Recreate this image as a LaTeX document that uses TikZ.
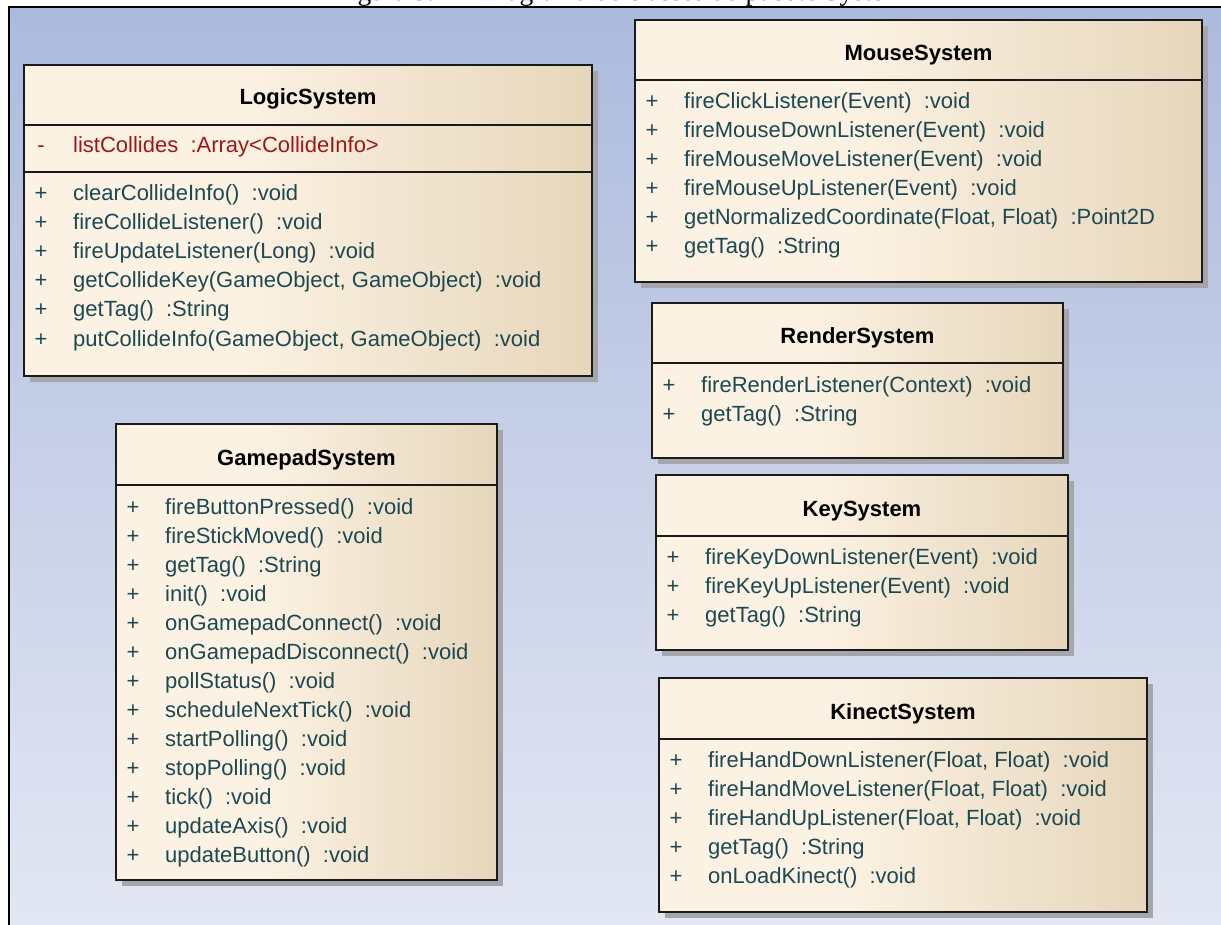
\documentclass[tikz,border=0pt]{standalone}
\usepackage{fontspec}
\setmainfont{Liberation Sans}
\newfontfamily\capfont{Liberation Serif}

% colours of the class diagram
\definecolor{bgtop}{RGB}{172,186,221}
\definecolor{bgbot}{RGB}{227,231,243}
\definecolor{boxleft}{RGB}{252,242,227}
\definecolor{boxright}{RGB}{230,214,187}
\definecolor{boxline}{RGB}{26,26,26}
\definecolor{shadowgray}{RGB}{165,166,172}
\definecolor{membercol}{RGB}{28,72,82}
\definecolor{attrcol}{RGB}{160,22,22}

% cream-to-tan fill of the class boxes
\pgfdeclarehorizontalshading{classfill}{100bp}{color(0bp)=(boxleft); color(25bp)=(boxleft); color(44bp)=(boxleft); color(75bp)=(boxright); color(100bp)=(boxright)}

\tikzset{
  classbox/.style={draw=boxline, line width=2.4pt, shade, shading=classfill,
    anchor=north west, inner sep=0pt, outer sep=0pt},
  sepline/.style={draw=boxline, line width=2pt},
  classtitle/.style={anchor=base, inner sep=0pt, text=black,
    font=\bfseries\fontsize{22}{26}\selectfont},
  visi/.style={anchor=base, inner sep=0pt, text=membercol,
    font=\fontsize{22}{26}\selectfont},
  member/.style={anchor=base west, inner sep=0pt, text=membercol,
    font=\fontsize{22}{26}\selectfont},
  attr/.style={member, text=attrcol},
  attrvisi/.style={visi, text=attrcol},
}

% gap between a signature and its type
\newcommand\tsp{\hspace{0.556em}}

% #1 name, #2 left, #3 top, #4 right, #5 bottom, #6 title, #7 title baseline, #8 separator
\newcommand\classbox[8]{%
  \fill[shadowgray] ({#2+6},{#3+6}) rectangle ({#4+6},{#5+6});
  \node[classbox, minimum width={#4pt-#2pt}, minimum height={#5pt-#3pt}] (#1) at (#2,#3) {};
  \node[classtitle] (#1-title) at ({(#2+#4)/2},#7) {#6};
  \draw[sepline] (#2,#8) -- (#4,#8);
}

% #1 box name, #2 index, #3 box left, #4 baseline, #5 text
\newcommand\op[5]{%
  \node[visi] (#1-v#2) at ({#3+17},#4) {+};
  \node[member] (#1-m#2) at ({#3+49},#4) {#5};
}

\begin{document}
\begin{tikzpicture}[x=1pt,y=-1pt]
\useasboundingbox (0,0) rectangle (1221,925);
\clip (0,0) rectangle (1221,925);
\fill[white] (0,0) rectangle (1221,925);

% caption above the frame (only its lowest part lies on the page)
\node[anchor=base, inner sep=0pt, font=\capfont\fontsize{27.5}{32}\selectfont] (caption) at (620,0.5)
  {Figura 5.4 -- Diagrama de classes do pacote System};

% diagram background and frame
\shade[top color=bgtop, bottom color=bgbot] (9,7) rectangle (1221,925);
\draw[line width=2.6pt, line cap=rect] (9,925) -- (9,7) -- (1221,7);

% LogicSystem
\classbox{logic}{24}{65}{592}{376}{LogicSystem}{105}{125}
\draw[sepline] (24,172) -- (592,172);
\node[attrvisi] (logic-va) at (41,153) {-};
\node[attr] (logic-a1) at (73,153) {listCollides\tsp:Array<CollideInfo>};
\op{logic}{1}{24}{201}{clearCollideInfo()\tsp:void}
\op{logic}{2}{24}{230}{fireCollideListener()\tsp:void}
\op{logic}{3}{24}{259}{fireUpdateListener(Long)\tsp:void}
\op{logic}{4}{24}{288}{getCollideKey(GameObject, GameObject)\tsp:void}
\op{logic}{5}{24}{317}{getTag()\tsp:String}
\op{logic}{6}{24}{346}{putCollideInfo(GameObject, GameObject)\tsp:void}

% MouseSystem
\classbox{mouse}{635}{20}{1202}{282}{MouseSystem}{61}{80}
\op{mouse}{1}{635}{109}{fireClickListener(Event)\tsp:void}
\op{mouse}{2}{635}{138}{fireMouseDownListener(Event)\tsp:void}
\op{mouse}{3}{635}{167}{fireMouseMoveListener(Event)\tsp:void}
\op{mouse}{4}{635}{196}{fireMouseUpListener(Event)\tsp:void}
\op{mouse}{5}{635}{225}{getNormalizedCoordinate(Float, Float)\tsp:Point2D}
\op{mouse}{6}{635}{254}{getTag()\tsp:String}

% RenderSystem
\classbox{render}{652}{303}{1063}{458}{RenderSystem}{344}{363}
\op{render}{1}{652}{392}{fireRenderListener(Context)\tsp:void}
\op{render}{2}{652}{421}{getTag()\tsp:String}

% KeySystem
\classbox{key}{656}{475}{1068}{650}{KeySystem}{516}{536}
\op{key}{1}{656}{564}{fireKeyDownListener(Event)\tsp:void}
\op{key}{2}{656}{593}{fireKeyUpListener(Event)\tsp:void}
\op{key}{3}{656}{622}{getTag()\tsp:String}

% KinectSystem
\classbox{kinect}{659}{678}{1147}{912}{KinectSystem}{719}{739}
\op{kinect}{1}{659}{767}{fireHandDownListener(Float, Float)\tsp:void}
\op{kinect}{2}{659}{796}{fireHandMoveListener(Float, Float)\tsp:void}
\op{kinect}{3}{659}{825}{fireHandUpListener(Float, Float)\tsp:void}
\op{kinect}{4}{659}{854}{getTag()\tsp:String}
\op{kinect}{5}{659}{883}{onLoadKinect()\tsp:void}

% GamepadSystem
\classbox{gamepad}{116}{424}{497}{880}{GamepadSystem}{465}{485}
\op{gamepad}{1}{116}{514}{fireButtonPressed()\tsp:void}
\op{gamepad}{2}{116}{543}{fireStickMoved()\tsp:void}
\op{gamepad}{3}{116}{572}{getTag()\tsp:String}
\op{gamepad}{4}{116}{601}{init()\tsp:void}
\op{gamepad}{5}{116}{630}{onGamepadConnect()\tsp:void}
\op{gamepad}{6}{116}{659}{onGamepadDisconnect()\tsp:void}
\op{gamepad}{7}{116}{688}{pollStatus()\tsp:void}
\op{gamepad}{8}{116}{717}{scheduleNextTick()\tsp:void}
\op{gamepad}{9}{116}{746}{startPolling()\tsp:void}
\op{gamepad}{10}{116}{775}{stopPolling()\tsp:void}
\op{gamepad}{11}{116}{804}{tick()\tsp:void}
\op{gamepad}{12}{116}{833}{updateAxis()\tsp:void}
\op{gamepad}{13}{116}{862}{updateButton()\tsp:void}
\end{tikzpicture}
\end{document}
